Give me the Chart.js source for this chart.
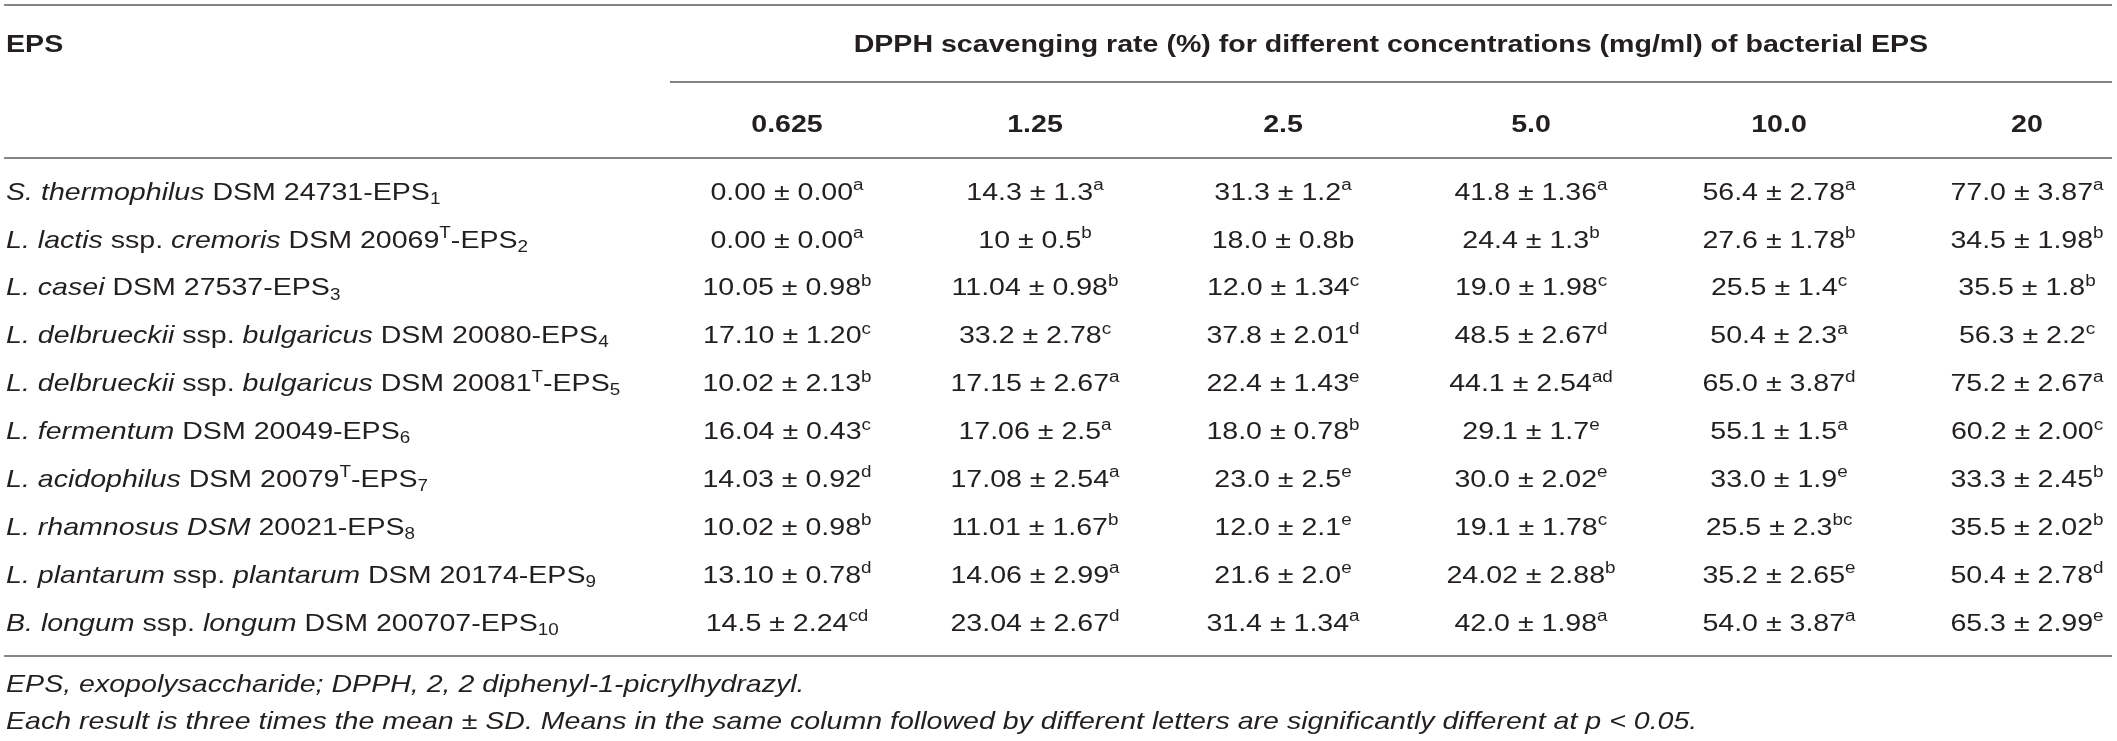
<!DOCTYPE html>
<html><head><meta charset="utf-8">
<script src="https://cdn.jsdelivr.net/npm/chart.js@4.4.0/dist/chart.umd.min.js"></script>
<style>html,body{margin:0;padding:0;background:#fff;overflow:hidden}</style>
</head><body>
<canvas id="c" width="2117" height="741"></canvas>
<script>
// ---------- DATA ----------
// markup: *italic*  ^{superscript}  _{subscript}
const strains = [
  "*S. thermophilus* DSM 24731-EPS_{1}",
  "*L. lactis* ssp. *cremoris* DSM 20069^{T}-EPS_{2}",
  "*L. casei* DSM 27537-EPS_{3}",
  "*L. delbrueckii* ssp. *bulgaricus* DSM 20080-EPS_{4}",
  "*L. delbrueckii* ssp. *bulgaricus* DSM 20081^{T}-EPS_{5}",
  "*L. fermentum* DSM 20049-EPS_{6}",
  "*L. acidophilus* DSM 20079^{T}-EPS_{7}",
  "*L. rhamnosus DSM* 20021-EPS_{8}",
  "*L. plantarum* ssp. *plantarum* DSM 20174-EPS_{9}",
  "*B. longum* ssp. *longum* DSM 200707-EPS_{10}"
];
const concentrations = ["0.625", "1.25", "2.5", "5.0", "10.0", "20"];
const conc0625 = ["0.00 ± 0.00^{a}","0.00 ± 0.00^{a}","10.05 ± 0.98^{b}","17.10 ± 1.20^{c}","10.02 ± 2.13^{b}","16.04 ± 0.43^{c}","14.03 ± 0.92^{d}","10.02 ± 0.98^{b}","13.10 ± 0.78^{d}","14.5 ± 2.24^{cd}"];
const conc125  = ["14.3 ± 1.3^{a}","10 ± 0.5^{b}","11.04 ± 0.98^{b}","33.2 ± 2.78^{c}","17.15 ± 2.67^{a}","17.06 ± 2.5^{a}","17.08 ± 2.54^{a}","11.01 ± 1.67^{b}","14.06 ± 2.99^{a}","23.04 ± 2.67^{d}"];
const conc25   = ["31.3 ± 1.2^{a}","18.0 ± 0.8b","12.0 ± 1.34^{c}","37.8 ± 2.01^{d}","22.4 ± 1.43^{e}","18.0 ± 0.78^{b}","23.0 ± 2.5^{e}","12.0 ± 2.1^{e}","21.6 ± 2.0^{e}","31.4 ± 1.34^{a}"];
const conc50   = ["41.8 ± 1.36^{a}","24.4 ± 1.3^{b}","19.0 ± 1.98^{c}","48.5 ± 2.67^{d}","44.1 ± 2.54^{ad}","29.1 ± 1.7^{e}","30.0 ± 2.02^{e}","19.1 ± 1.78^{c}","24.02 ± 2.88^{b}","42.0 ± 1.98^{a}"];
const conc100  = ["56.4 ± 2.78^{a}","27.6 ± 1.78^{b}","25.5 ± 1.4^{c}","50.4 ± 2.3^{a}","65.0 ± 3.87^{d}","55.1 ± 1.5^{a}","33.0 ± 1.9^{e}","25.5 ± 2.3^{bc}","35.2 ± 2.65^{e}","54.0 ± 3.87^{a}"];
const conc20   = ["77.0 ± 3.87^{a}","34.5 ± 1.98^{b}","35.5 ± 1.8^{b}","56.3 ± 2.2^{c}","75.2 ± 2.67^{a}","60.2 ± 2.00^{c}","33.3 ± 2.45^{b}","35.5 ± 2.02^{b}","50.4 ± 2.78^{d}","65.3 ± 2.99^{e}"];
const headerLeft = "EPS";
const headerSpan = "DPPH scavenging rate (%) for different concentrations (mg/ml) of bacterial EPS";
const footnotes = [
  "EPS, exopolysaccharide; DPPH, 2, 2 diphenyl-1-picrylhydrazyl.",
  "Each result is three times the mean ± SD. Means in the same column followed by different letters are significantly different at p < 0.05."
];

// ---------- LAYOUT (scale units) ----------
const columns = [conc0625, conc125, conc25, conc50, conc100, conc20];
const LABEL_X = -3.149, SPAN_X = 2.435, LINE_L = -3.157, LINE_R = 5.343, SPAN_LINE_X = -0.4718;
const ROW_HEAD = -3.090, ROW_COLHEAD = -1.420;
const LINES = [{y:-3.883, from:LINE_L}, {y:-2.276, from:SPAN_LINE_X}, {y:-0.689, from:LINE_L}, {y:9.708, from:LINE_L}];
const FOOT_ROWS = [10.271, 11.044];
const FONT = '"Liberation Sans", Arial, sans-serif';
const SIZE = 24, SX = 1.19, TEXT = '#231f20', LINE = '#858585';

function parse(str, baseItalic){
  const segs=[]; let it=baseItalic, i=0, buf='';
  const push=(t,s)=>{ if(t) segs.push({t, it, s}); };
  while(i<str.length){
    const ch=str[i];
    if(ch==='*'){ push(buf,null); buf=''; it=!it; i++; continue; }
    if((ch==='^'||ch==='_') && str[i+1]==='{'){
      push(buf,null); buf='';
      const end=str.indexOf('}',i);
      push(str.slice(i+2,end), ch==='^'?'sup':'sub');
      i=end+1; continue;
    }
    buf+=ch; i++;
  }
  push(buf,null);
  return segs;
}
function fontFor(seg,bold,size){
  const sz = seg.s ? size*0.66 : size;
  return (seg.it?'italic ':'')+(bold?'bold ':'')+sz+'px '+FONT;
}
function drawRich(ctx,str,x,yMid,opts){
  const size=opts.size||SIZE, bold=!!opts.bold, sx=SX;
  const segs=parse(str,!!opts.italic);
  let w=0;
  segs.forEach(s=>{ctx.font=fontFor(s,bold,size); s.w=ctx.measureText(s.t).width; w+=s.w;});
  let cx = opts.align==='center' ? x - w*sx/2 : x;
  const base = yMid + size*0.36;
  ctx.fillStyle=TEXT; ctx.textBaseline='alphabetic'; ctx.textAlign='left';
  segs.forEach(s=>{
    ctx.font=fontFor(s,bold,size);
    let yy=base; if(s.s==='sup') yy=base-size*0.40; if(s.s==='sub') yy=base+size*0.17;
    ctx.save(); ctx.translate(cx,yy); ctx.scale(sx,1); ctx.fillText(s.t,0,0); ctx.restore();
    cx+=s.w*sx;
  });
}

// ---------- DATASETS ----------
const cellPoints=[];
columns.forEach((col,ci)=>col.forEach((txt,ri)=>cellPoints.push({x:ci,y:ri,txt})));
const labelPoints=strains.map((s,ri)=>({x:LABEL_X,y:ri,txt:s}));
const headPoints=concentrations.map((c,ci)=>({x:ci,y:ROW_COLHEAD,txt:c}));

const tablePlugin={
  id:'table',
  afterDatasetsDraw(chart){
    const ctx=chart.ctx, xs=chart.scales.x, ys=chart.scales.y;
    ctx.save();
    ctx.strokeStyle=LINE; ctx.lineWidth=2;
    LINES.forEach(l=>{
      const y=Math.round(ys.getPixelForValue(l.y));
      ctx.beginPath(); ctx.moveTo(xs.getPixelForValue(l.from),y); ctx.lineTo(xs.getPixelForValue(LINE_R),y); ctx.stroke();
    });
    drawRich(ctx,headerLeft,xs.getPixelForValue(LABEL_X),ys.getPixelForValue(ROW_HEAD),{bold:true,align:'left'});
    drawRich(ctx,headerSpan,xs.getPixelForValue(SPAN_X),ys.getPixelForValue(ROW_HEAD),{bold:true,align:'center'});
    chart.getDatasetMeta(2).data.forEach((el,i)=>drawRich(ctx,headPoints[i].txt,el.x,el.y,{bold:true,align:'center'}));
    chart.getDatasetMeta(1).data.forEach((el,i)=>drawRich(ctx,labelPoints[i].txt,el.x,el.y,{align:'left'}));
    chart.getDatasetMeta(0).data.forEach((el,i)=>drawRich(ctx,cellPoints[i].txt,el.x,el.y,{align:'center'}));
    footnotes.forEach((f,i)=>drawRich(ctx,f,xs.getPixelForValue(LABEL_X),ys.getPixelForValue(FOOT_ROWS[i]),{italic:true,align:'left'}));
    ctx.restore();
  }
};

new Chart(document.getElementById('c'),{
  type:'scatter',
  data:{datasets:[
    {data:cellPoints,pointRadius:0,pointHoverRadius:0},
    {data:labelPoints,pointRadius:0,pointHoverRadius:0},
    {data:headPoints,pointRadius:0,pointHoverRadius:0}
  ]},
  options:{
    responsive:false, animation:false, devicePixelRatio:1,
    layout:{padding:0},
    plugins:{legend:{display:false},tooltip:{enabled:false}},
    events:[],
    scales:{
      x:{type:'linear',display:false,min:-3.1734,max:5.3629},
      y:{type:'linear',display:false,reverse:true,min:-3.987,max:11.482}
    }
  },
  plugins:[tablePlugin]
});
</script>
</body></html>
